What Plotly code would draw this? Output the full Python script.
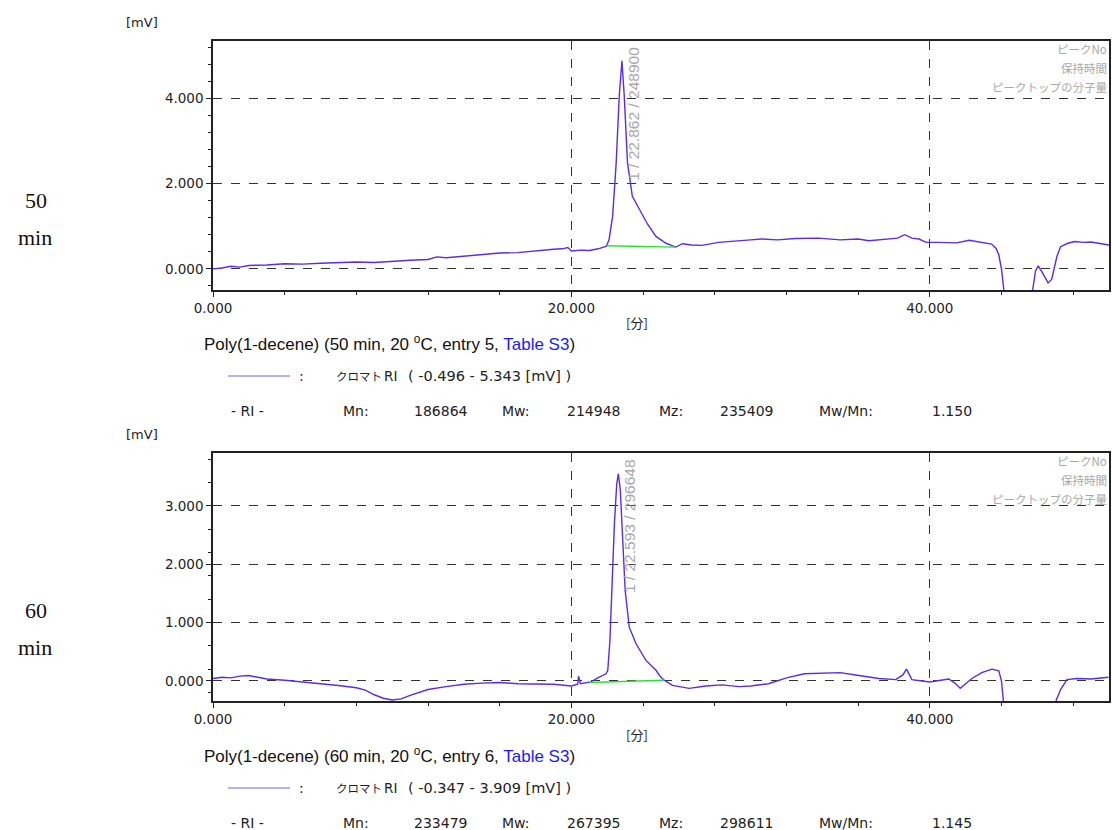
import plotly.graph_objects as go

W, H = 1112, 830

# ---------------- data ----------------
t50 = [0.0, 0.5, 1.0, 1.5, 2.0, 3.0, 4.0, 5.0, 6.0, 7.0, 8.0, 9.0, 10.0, 11.0, 12.0, 12.5, 13.0,
       14.0, 15.0, 16.0, 17.0, 17.5, 18.0, 19.0, 19.5, 19.8, 20.0, 20.5, 21.0, 21.5, 21.95, 22.1,
       22.3, 22.5, 22.67, 22.82, 22.95, 23.13, 23.4, 23.79, 24.26, 24.72, 25.28, 25.83, 26.0, 26.2,
       26.7, 27.3, 28.2, 29.0, 30.0, 30.6, 31.5, 32.5, 33.8, 35.0, 36.0, 36.6, 37.5, 38.2, 38.6,
       39.0, 39.4, 39.8, 40.5, 41.0, 41.5, 42.2, 42.8, 43.45, 43.7, 43.85, 44.0, 44.1, 44.4,
       45.5, 45.75, 45.9, 46.05, 46.3, 46.6, 46.8, 47.1, 47.3, 47.7, 48.1, 48.6, 49.0, 49.5, 50.0]
v50 = [0.00, 0.02, 0.06, 0.04, 0.08, 0.09, 0.12, 0.11, 0.13, 0.14, 0.16, 0.15, 0.18, 0.20, 0.22, 0.28, 0.26,
       0.30, 0.33, 0.37, 0.38, 0.40, 0.43, 0.46, 0.47, 0.50, 0.42, 0.44, 0.43, 0.47, 0.53, 0.68,
       1.23, 2.49, 4.05, 4.88, 4.05, 2.49, 1.70, 1.39, 1.04, 0.76, 0.60, 0.51, 0.55, 0.59,
       0.56, 0.55, 0.62, 0.64, 0.68, 0.70, 0.68, 0.71, 0.72, 0.68, 0.70, 0.66, 0.70, 0.72, 0.80,
       0.72, 0.70, 0.62, 0.62, 0.61, 0.61, 0.67, 0.63, 0.58, 0.48, 0.33, 0.00, -0.47, -1.50,
       -1.50, -0.47, -0.05, 0.07, -0.10, -0.33, -0.25, 0.30, 0.52, 0.60, 0.64, 0.62, 0.63, 0.60, 0.56]
base50_t = [21.98, 25.83]
base50_v = [0.54, 0.51]

t60 = [0.0, 0.5, 1.0, 1.5, 2.0, 2.5, 3.0, 4.0, 5.0, 6.0, 7.0, 8.0, 8.5, 9.0, 9.5, 10.0, 10.5, 11.0,
       11.5, 12.0, 13.0, 14.0, 15.0, 16.0, 17.0, 18.2, 19.0, 20.0, 20.35, 20.4, 20.5, 21.1, 21.47,
       21.93, 22.03, 22.15, 22.27, 22.4, 22.53, 22.62, 22.73, 22.86, 23.0, 23.23, 23.6, 24.16, 24.72,
       24.97, 25.18, 25.64, 26.57, 27.5, 28.4, 29.36, 30.0, 31.0, 32.0, 33.0, 34.0, 35.0, 36.05,
       37.16, 38.1, 38.5, 38.7, 39.0, 40.0, 41.06, 41.4, 41.7, 42.35, 42.9, 43.47, 43.85, 44.0,
       44.08, 44.3, 46.9, 47.06, 47.3, 47.65, 48.2, 49.0, 49.97]
v60 = [0.04, 0.06, 0.05, 0.08, 0.09, 0.06, 0.03, 0.01, -0.02, -0.04, -0.08, -0.12, -0.16, -0.24, -0.30, -0.33, -0.31, -0.25,
       -0.20, -0.15, -0.10, -0.06, -0.04, -0.03, -0.05, -0.05, -0.06, -0.09, -0.06, 0.08, -0.05, -0.02, 0.05,
       0.12, 0.18, 0.69, 1.84, 2.70, 3.38, 3.55, 3.27, 2.41, 1.55, 0.92, 0.64, 0.35, 0.18,
       0.07, 0.01, -0.08, -0.13, -0.09, -0.07, -0.10, -0.09, -0.05, 0.05, 0.12, 0.13, 0.14, 0.09,
       0.04, 0.02, 0.10, 0.20, 0.02, -0.02, 0.03, -0.04, -0.13, 0.04, 0.14, 0.20, 0.17, 0.00,
       -0.33, -1.00, -1.00, -0.33, -0.15, 0.02, 0.04, 0.03, 0.06]
base60_t = [21.0, 25.18]
base60_v = [-0.03, 0.01]

x_ticks = [0, 20, 40]
y50_ticks = [0, 2, 4]
y60_ticks = [0, 1, 2, 3]
y50_range = [-0.496, 5.343]
y60_range = [-0.347, 3.909]

peak50 = "1 / 22.862 / 248900"
peak60 = "1 / 22.593 / 296648"
hdr = ["ピークNo", "保持時間", "ピークトップの分子量"]

stats_labels = ["- RI -", "Mn:", "Mw:", "Mz:", "Mw/Mn:"]
stats50 = ["186864", "214948", "235409", "1.150"]
stats60 = ["233479", "267395", "298611", "1.145"]

# ---------------- figure ----------------
LINE = "#5b2be8"
GREEN = "#2ee02e"
GRAY = "#a8a8a8"
TICKFONT = dict(family="DejaVu Sans", size=13.5, color="#222")


def px(x, y):
    return x / W, 1 - y / H


fig = go.Figure()
fig.add_trace(go.Scatter(x=t50, y=v50, mode="lines", line=dict(color=LINE, width=1.4),
                         xaxis="x", yaxis="y", showlegend=False))
fig.add_trace(go.Scatter(x=base50_t, y=base50_v, mode="lines", line=dict(color=GREEN, width=1.4),
                         xaxis="x", yaxis="y", showlegend=False))
fig.add_trace(go.Scatter(x=t60, y=v60, mode="lines", line=dict(color=LINE, width=1.4),
                         xaxis="x2", yaxis="y2", showlegend=False))
fig.add_trace(go.Scatter(x=base60_t, y=base60_v, mode="lines", line=dict(color=GREEN, width=1.4),
                         xaxis="x2", yaxis="y2", showlegend=False))

xd = [213 / W, 1109 / W]


def xaxis(anchor):
    return dict(domain=xd, range=[0, 50], anchor=anchor, tickvals=x_ticks, tickformat=".3f",
                showgrid=True, gridcolor="#333", griddash="dash", gridwidth=1,
                showline=True, linecolor="#222", linewidth=1.5, mirror=True,
                ticks="outside", ticklen=5, tickcolor="#222",
                minor=dict(dtick=4, ticks="outside", ticklen=3, tickcolor="#222", showgrid=False),
                tickfont=TICKFONT, zeroline=False, fixedrange=True, automargin=False)


def yaxis(anchor, dom, rng, tv, tick0):
    return dict(domain=dom, range=rng, anchor=anchor, tickvals=tv, tickformat=".3f",
                showgrid=True, gridcolor="#333", griddash="dash", gridwidth=1,
                showline=True, linecolor="#222", linewidth=1.5, mirror=True,
                ticks="outside", ticklen=5, tickcolor="#222",
                minor=dict(dtick=0.4, tick0=tick0, ticks="outside", ticklen=3, tickcolor="#222", showgrid=False),
                tickfont=TICKFONT, zeroline=False, fixedrange=True, automargin=False)


fig.update_layout(
    width=W, height=H, margin=dict(l=0, r=0, t=0, b=0, autoexpand=False),
    paper_bgcolor="white", plot_bgcolor="white", showlegend=False,
    xaxis=xaxis("y"),
    yaxis=yaxis("x", [1 - 290 / H, 1 - 41 / H], y50_range, y50_ticks, 0),
    xaxis2=xaxis("y2"),
    yaxis2=yaxis("x2", [1 - 701 / H, 1 - 453 / H], y60_range, y60_ticks, -0.2),
)

ann = []


def text(x, y, s, size=13, family="DejaVu Sans", color="#222", xanchor="left", yanchor="middle", angle=0):
    ax, ay = px(x, y)
    ann.append(dict(x=ax, y=ay, xref="paper", yref="paper", text=s, showarrow=False,
                    font=dict(family=family, size=size, color=color),
                    xanchor=xanchor, yanchor=yanchor, textangle=angle))


shapes = []
panels = [
    dict(off=0, title="Poly(1-decene) (50 min, 20 <sup>o</sup>C, entry 5, <span style='color:#1a1aff'>Table S3</span>)",
         rng="( -0.496 - 5.343 [mV] )", stats=stats50, lab=("50", "min"), laby=(200, 238),
         peak=peak50, peakxy=("x", "y", 23.45, 3.64)),
    dict(off=412, title="Poly(1-decene) (60 min, 20 <sup>o</sup>C, entry 6, <span style='color:#1a1aff'>Table S3</span>)",
         rng="( -0.347 - 3.909 [mV] )", stats=stats60, lab=("60", "min"), laby=(610, 647),
         peak=peak60, peakxy=("x2", "y2", 23.23, 2.66)),
]

for p in panels:
    o = p["off"]
    text(124, 22 + o, "[mV]", size=13)
    text(637, 322 + o, "[分]", size=13, family="Noto Sans CJK JP", xanchor="center")
    text(202, 343 + o, p["title"], size=17, family="Liberation Sans", color="#111")
    # legend line
    x0, y0 = px(228, 376 + o)
    x1, _ = px(290, 376 + o)
    shapes.append(dict(type="line", xref="paper", yref="paper", x0=x0, x1=x1, y0=y0, y1=y0,
                       line=dict(color="#a595f0", width=1.5)))
    text(297, 376 + o, ":", size=14)
    text(334, 376 + o, "クロマト", size=11.5, family="Noto Sans CJK JP")
    text(382, 376 + o, "RI", size=13.5)
    text(406, 376 + o, p["rng"], size=14.5)
    # stats row
    xs = [229, 341, 412, 500, 565, 657, 718, 817, 930]
    vals = [stats_labels[0], stats_labels[1], p["stats"][0], stats_labels[2], p["stats"][1],
            stats_labels[3], p["stats"][2], stats_labels[4], p["stats"][3]]
    for xx, s in zip(xs, vals):
        text(xx, 411 + o, s, size=14)
    # header texts top-right
    for i, h in enumerate(hdr):
        text(1109, 49 + o + i * 19, h, size=11.5, family="Noto Sans CJK JP", color=GRAY, xanchor="right")
    # left labels
    text(36, p["laby"][0], p["lab"][0], size=22, family="Liberation Serif", color="#111", xanchor="center")
    text(35, p["laby"][1], p["lab"][1], size=22, family="Liberation Serif", color="#111", xanchor="center")
    # peak annotation
    xr, yr, pxv, pyv = p["peakxy"]
    ann.append(dict(x=pxv, y=pyv, xref=xr, yref=yr, text=p["peak"], showarrow=False, textangle=-90,
                    font=dict(family="Liberation Sans", size=15.5, color=GRAY),
                    xanchor="center", yanchor="middle"))

fig.update_layout(annotations=ann, shapes=shapes)
fig.write_html("out.html")
